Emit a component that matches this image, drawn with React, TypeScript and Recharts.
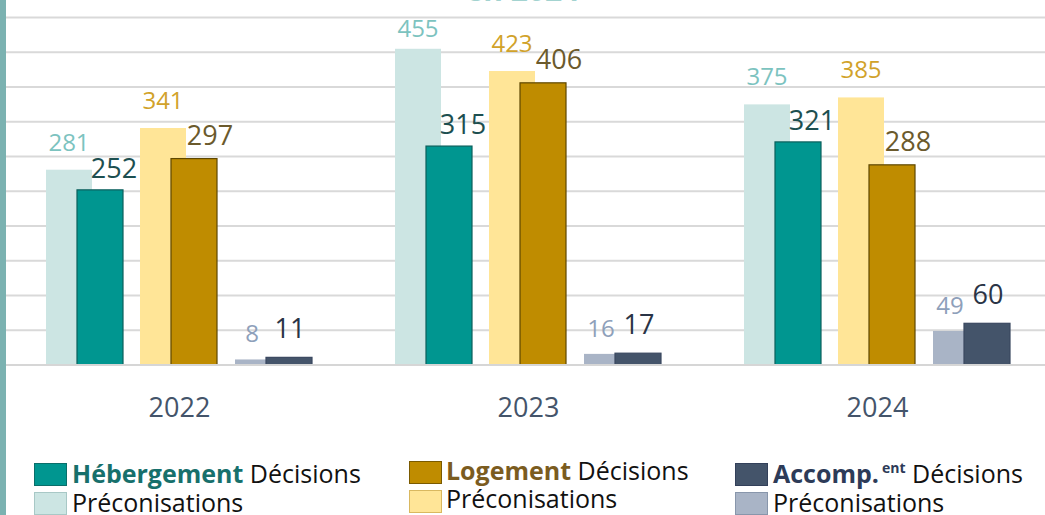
import React from 'react';
import { BarChart, Bar, XAxis, YAxis, CartesianGrid, LabelList } from 'recharts';

const years = ['2022', '2023', '2024'];
const hebergementPreconisations = [281, 455, 375];
const hebergementDecisions = [252, 315, 321];
const logementPreconisations = [341, 423, 385];
const logementDecisions = [297, 406, 288];
const accompPreconisations = [8, 16, 49];
const accompDecisions = [11, 17, 60];
const yTicks = [0, 50, 100, 150, 200, 250, 300, 350, 400, 450, 500];

const data = years.map((year, i) => ({
  year,
  hebP: hebergementPreconisations[i],
  hebD: hebergementDecisions[i],
  logP: logementPreconisations[i],
  logD: logementDecisions[i],
  accP: accompPreconisations[i],
  accD: accompDecisions[i],
}));

const FONT = "'Open Sans', 'Noto Sans', sans-serif";

const makeShape = (fill: string, stroke: string | null, shift: number) => (props: any) => {
  const { x, y, width, height } = props;
  if (!height || height <= 0) return <g />;
  return (
    <rect
      x={x + shift}
      y={y}
      width={width}
      height={height}
      fill={fill}
      stroke={stroke || 'none'}
      strokeWidth={stroke ? 1.2 : 0}
    />
  );
};

const makeLabel = (color: string, size: number, shift: number, dx: number, gap: number) => (props: any) => {
  const vb = props.viewBox || {};
  const x = vb.x ?? props.x;
  const y = vb.y ?? props.y;
  const width = vb.width ?? props.width;
  const baseline = Math.max(y - gap, 37);
  return (
    <text
      x={x + width / 2 + shift + dx}
      y={baseline}
      textAnchor="middle"
      fill={color}
      fontSize={size}
      fontFamily={FONT}
    >
      {props.value}
    </text>
  );
};

const XTick = (props: any) => {
  const { x, y, payload } = props;
  return (
    <text x={x} y={y + 52} textAnchor="middle" fill="#44546a" fontSize={27} fontFamily={FONT}>
      {payload.value}
    </text>
  );
};

const SHIFT_HEB = -33;
const SHIFT_LOG = -1;
const SHIFT_ACC = 32;

const square = (left: number, top: number, fill: string, border: string) => (
  <div
    style={{
      position: 'absolute',
      left,
      top,
      width: 31,
      height: 21,
      background: fill,
      border: `1px solid ${border}`,
    }}
  />
);

const textRow = (left: number, top: number, content: React.ReactNode, lh: number) => (
  <div
    style={{
      position: 'absolute',
      left,
      top,
      fontSize: 25,
      lineHeight: `${lh}px`,
      fontFamily: FONT,
      color: '#111111',
      whiteSpace: 'nowrap',
    }}
  >
    {content}
  </div>
);

export default function App() {
  return (
    <div
      style={{
        position: 'absolute',
        left: 0,
        top: 0,
        width: 1045,
        height: 515,
        overflow: 'hidden',
        background: '#ffffff',
        fontFamily: FONT,
      }}
    >
      <div
        style={{
          position: 'absolute',
          left: 0,
          top: -28,
          width: 1045,
          textAlign: 'center',
          fontSize: 30,
          fontWeight: 700,
          lineHeight: '36px',
          color: '#a3d3d0',
          fontFamily: FONT,
        }}
      >
        en 2024
      </div>
      <BarChart
        width={1045}
        height={515}
        data={data}
        margin={{ top: 17.5, right: -7, left: 5, bottom: 90 }}
        barSize={46}
        barGap={-15}
      >
        <CartesianGrid vertical={false} stroke="#d9d9d9" strokeWidth={2} />
        <YAxis hide domain={[0, 500]} ticks={yTicks} />
        <XAxis
          dataKey="year"
          height={60}
          axisLine={{ stroke: '#d6d6d6', strokeWidth: 2 }}
          tickLine={false}
          tickSize={0}
          tickMargin={0}
          tick={<XTick />}
        />
        <Bar dataKey="hebP" isAnimationActive={false} shape={makeShape('#cce5e3', null, SHIFT_HEB)}>
          <LabelList dataKey="hebP" content={makeLabel('#7cc3bf', 24, SHIFT_HEB, 0, 19)} />
        </Bar>
        <Bar dataKey="hebD" isAnimationActive={false} shape={makeShape('#009690', '#0b5f5c', SHIFT_HEB)}>
          <LabelList dataKey="hebD" content={makeLabel('#1d4f50', 27, SHIFT_HEB, 14, 12)} />
        </Bar>
        <Bar dataKey="logP" isAnimationActive={false} shape={makeShape('#ffe597', null, SHIFT_LOG)}>
          <LabelList dataKey="logP" content={makeLabel('#d1a22a', 24, SHIFT_LOG, 0, 19)} />
        </Bar>
        <Bar dataKey="logD" isAnimationActive={false} shape={makeShape('#bf8c00', '#5e4700', SHIFT_LOG)}>
          <LabelList dataKey="logD" content={makeLabel('#6b5a2c', 27, SHIFT_LOG, 16, 14)} />
        </Bar>
        <Bar dataKey="accP" isAnimationActive={false} shape={makeShape('#a9b4c6', null, SHIFT_ACC)}>
          <LabelList dataKey="accP" content={makeLabel('#8ea0ba', 24, SHIFT_ACC, -6, 17)} />
        </Bar>
        <Bar dataKey="accD" isAnimationActive={false} shape={makeShape('#44546a', '#3a4860', SHIFT_ACC)}>
          <LabelList dataKey="accD" content={makeLabel('#2a3446', 27, SHIFT_ACC, 1, 19)} />
        </Bar>
      </BarChart>

      <div style={{ position: 'absolute', left: 0, top: 0, width: 6, height: 515, background: '#7bb2b1' }} />

      {square(34, 463, '#009690', '#0a6e6a')}
      {square(34, 492, '#cce5e3', '#a8c8c6')}
      {textRow(72, 459, <><b style={{ color: '#17706c' }}>Hébergement</b> Décisions</>, 29)}
      {textRow(72, 488, <>Préconisations</>, 29)}

      {square(409, 461, '#bf8c00', '#7a5a00')}
      {square(409, 490, '#ffe597', '#d9b860')}
      {textRow(446, 457, <><b style={{ color: '#7b5c1f' }}>Logement</b> Décisions</>, 27.5)}
      {textRow(446, 484.5, <>Préconisations</>, 27.5)}

      {square(735, 463, '#44546a', '#33405a')}
      {square(735, 492, '#a9b4c6', '#8896ab')}
      {textRow(
        773,
        459,
        <>
          <b style={{ color: '#2d3b58' }}>Accomp.</b>
          <b style={{ color: '#2d3b58', fontSize: 14, position: 'relative', top: -10, marginLeft: 3 }}>ent</b> Décisions
        </>,
        29
      )}
      {textRow(773, 488, <>Préconisations</>, 29)}
    </div>
  );
}
